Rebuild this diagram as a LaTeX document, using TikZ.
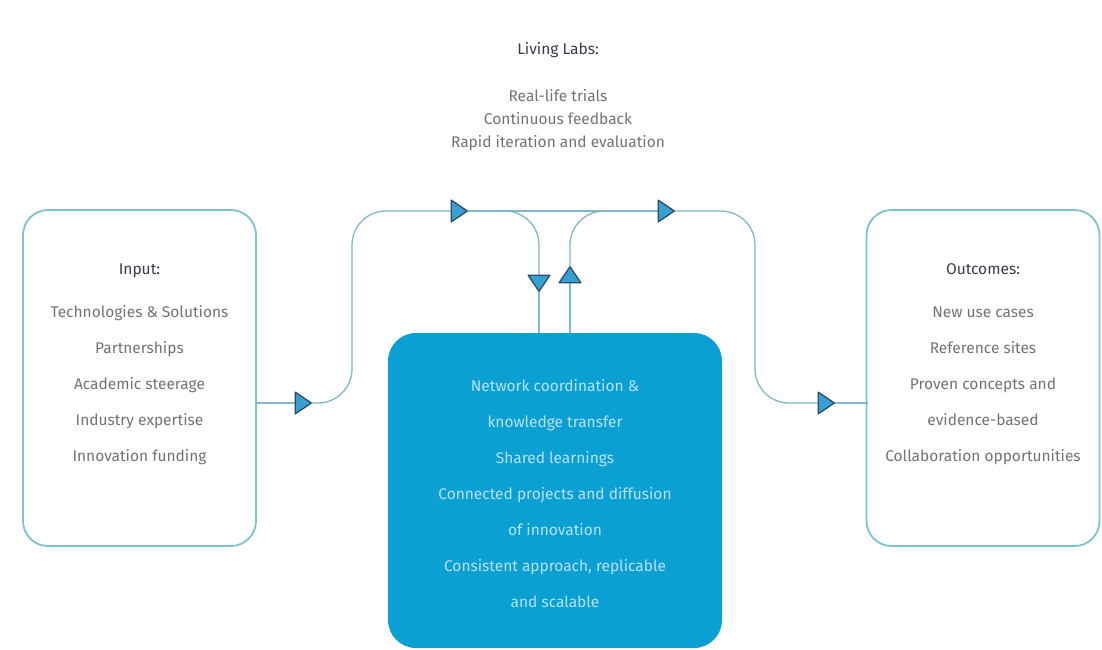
\documentclass[tikz,border=0pt]{standalone}
\usepackage{fontspec}
\setmainfont{Fira Sans}
\usetikzlibrary{arrows.meta}
\definecolor{linec}{RGB}{125,185,200}
\definecolor{boxc}{RGB}{125,195,205}
\definecolor{cfill}{RGB}{10,160,212}
\definecolor{afill}{RGB}{55,160,210}
\definecolor{adraw}{RGB}{45,75,105}
\definecolor{bodyc}{RGB}{115,115,115}
\definecolor{headc}{RGB}{55,60,75}
\definecolor{ctext}{RGB}{185,225,242}
\tikzset{
 sidebox/.style={draw=boxc, line width=1.8pt, rounded corners=25pt, minimum width=233pt, minimum height=336pt, inner sep=0pt},
 centerbox/.style={fill=cfill, rounded corners=28pt, minimum width=334pt, minimum height=315pt, inner sep=0pt},
 flow/.style={draw=linec, line width=1.3pt, rounded corners=34pt},
 tip/.style={-{Triangle[length=18pt,width=24pt,fill=afill,color=adraw,line width=1.3pt,round]}},
 txt/.style={align=center, font=\fontsize{15.5}{36}\selectfont, text=bodyc, inner sep=0pt},
 toptxt/.style={align=center, font=\fontsize{15.5}{23}\selectfont, text=bodyc, inner sep=0pt},
 head/.style={text=headc},
}
\begin{document}
\begin{tikzpicture}[x=1pt,y=-1pt]
\useasboundingbox (0,0) rectangle (1102,649);
% boxes
\node[sidebox] (input) at (139.5,378) {};
\node[sidebox] (outcome) at (983,378) {};
\node[centerbox] (hub) at (555,490.5) {};
% texts
\node[txt] (inputtxt) at (139.5,364) {\textcolor{headc}{Input:}\\[7pt]Technologies \& Solutions\\Partnerships\\Academic steerage\\Industry expertise\\Innovation funding};
\node[txt] (outtxt) at (983,364) {\textcolor{headc}{Outcomes:}\\[7pt]New use cases\\Reference sites\\Proven concepts and\\evidence-based\\Collaboration opportunities};
\node[txt,text=ctext] (hubtxt) at (555,494) {Network coordination \&\\knowledge transfer\\Shared learnings\\Connected projects and diffusion\\of innovation\\Consistent approach, replicable\\and scalable};
\node[toptxt] (labs) at (558,97) {\textcolor{headc}{Living Labs:}\\[24pt]Real-life trials\\Continuous feedback\\Rapid iteration and evaluation};
% coordinates
\coordinate (i1) at (256,403);
\coordinate (a1) at (312,403);
\coordinate (a2) at (468,211);
\coordinate (a3) at (675,211);
\coordinate (a4) at (835,403);
\coordinate (o1) at (868,403);
\coordinate (d0) at (480,211);
\coordinate (a5) at (539,292);
\coordinate (d1) at (539,333);
\coordinate (u0) at (570,333);
\coordinate (a6) at (570,266);
\coordinate (u1) at (625,211);
% connectors
\draw[flow,tip] (i1) -- (a1);
\draw[flow,tip] (a1) -- (352,403) -- (352,211) -- (a2);
\draw[flow,tip] (a2) -- (a3);
\draw[flow,tip] (a3) -- (755,211) -- (755,403) -- (a4);
\draw[flow] (a4) -- (o1);
\draw[flow,tip] (d0) -- (539,211) -- (a5);
\draw[flow] (a5) -- (d1);
\draw[flow,tip] (u0) -- (a6);
\draw[flow] (a6) -- (570,211) -- (u1);
\end{tikzpicture}
\end{document}
